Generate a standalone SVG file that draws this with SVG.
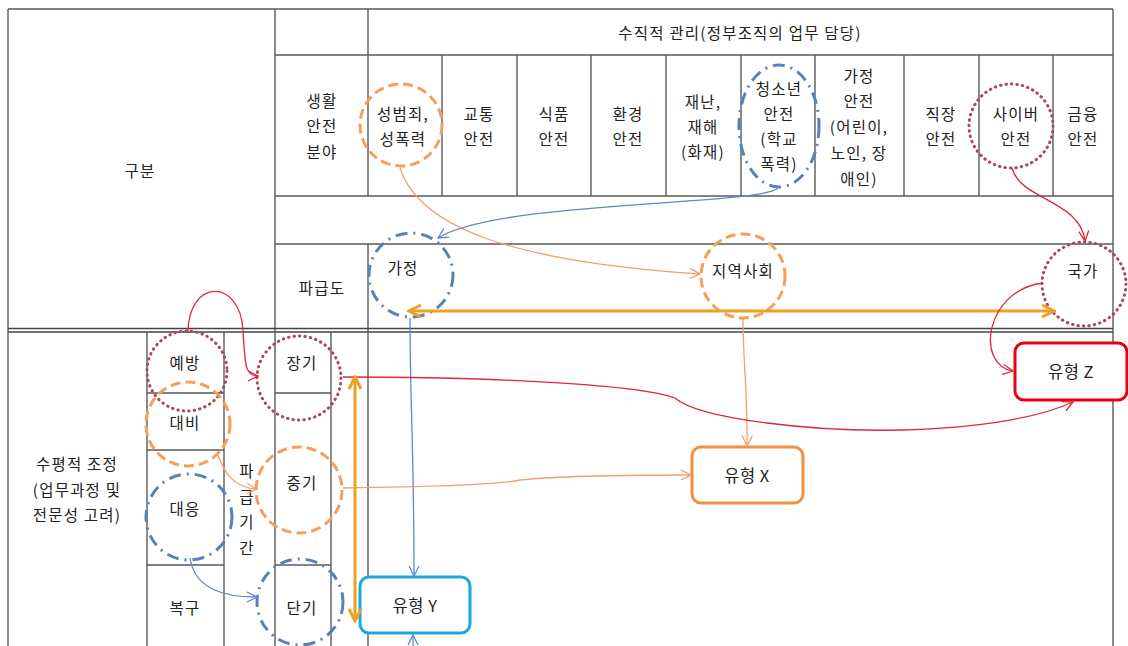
<svg xmlns="http://www.w3.org/2000/svg" width="1128" height="646" viewBox="0 0 1128 646">
<style>
text{font-family:"Noto Sans CJK KR","Noto Sans",sans-serif;font-size:15.5px;letter-spacing:1.2px;fill:#222;text-anchor:middle;dominant-baseline:central}
.t{stroke:#5a5a5a;stroke-width:1.4;fill:none}
.dbl{stroke:#444;stroke-width:1.6;fill:none}
.cOr{fill:none;stroke:#f4a05a;stroke-width:3;stroke-dasharray:10 5}
.cBl{fill:none;stroke:#5a80b8;stroke-width:3;stroke-dasharray:12 6 2 6}
.cMa{fill:none;stroke:#a8485a;stroke-width:3;stroke-dasharray:0.5 5;stroke-linecap:round}
.lOr{fill:none;stroke:#f2a070;stroke-width:1.3}
.lBl{fill:none;stroke:#6088c4;stroke-width:1.3}
.lRd{fill:none;stroke:#e0283c;stroke-width:1.3}
.thick{fill:none;stroke:#f0a020;stroke-width:3}
.box{fill:#fff;stroke-width:3}
.bx{font-size:16.5px;letter-spacing:0.5px}
</style>
<defs>
<marker id="aOr" markerUnits="userSpaceOnUse" markerWidth="12" markerHeight="12" refX="11" refY="6" orient="auto"><path d="M1,1 L11,6 L1,11" fill="none" stroke="#f2a070" stroke-width="1.3"/></marker>
<marker id="aBl" markerUnits="userSpaceOnUse" markerWidth="12" markerHeight="12" refX="11" refY="6" orient="auto"><path d="M1,1 L11,6 L1,11" fill="none" stroke="#6088c4" stroke-width="1.3"/></marker>
<marker id="aRd" markerUnits="userSpaceOnUse" markerWidth="12" markerHeight="12" refX="11" refY="6" orient="auto"><path d="M1,1 L11,6 L1,11" fill="none" stroke="#e0283c" stroke-width="1.3"/></marker>
<marker id="aTh" markerUnits="userSpaceOnUse" markerWidth="16" markerHeight="16" refX="14" refY="8" orient="auto-start-reverse"><path d="M2,2 L14,8 L2,14" fill="none" stroke="#f0a020" stroke-width="3"/></marker>
</defs>
<rect width="1128" height="646" fill="#fff"/>
<g id="table">
<path class="t" d="M8 9H1113M8 9V646M1113 9V646M275 9V646M368 9V196M368 244V646M275 55H1113M275 196H1113M275 244H1113"/>
<path class="t" d="M442 55V196M517 55V196M591 55V196M666 55V196M741 55V196M815 55V196M904 55V196M979 55V196M1053 55V196"/>
<path class="dbl" d="M8 328.5H1113M8 332H1113"/>
<path class="t" d="M147 332V646M224 332V646M331 332V646M147 393H224M275 393H331M147 450H224M147 565H224M275 565H331"/>
</g>
<g id="labels">
<text x="140" y="170">구분</text>
<text x="322" y="100">생활</text><text x="322" y="125">안전</text><text x="322" y="151">분야</text>
<text x="322" y="287">파급도</text>
<text x="740" y="32">수직적 관리(정부조직의 업무 담당)</text>
<text x="479" y="113">교통</text><text x="479" y="138">안전</text>
<text x="554" y="113">식품</text><text x="554" y="138">안전</text>
<text x="628" y="113">환경</text><text x="628" y="138">안전</text>
<text x="703" y="101">재난,</text><text x="703" y="126">재해</text><text x="703" y="151">(화재)</text>
<text x="859" y="75">가정</text><text x="859" y="100">안전</text><text x="859" y="126">(어린이,</text><text x="859" y="152">노인, 장</text><text x="859" y="178">애인)</text>
<text x="941" y="113">직장</text><text x="941" y="138">안전</text>
<text x="1083" y="113">금융</text><text x="1083" y="138">안전</text>
<text x="77" y="463">수평적 조정</text><text x="77" y="489">(업무과정 및</text><text x="77" y="514">전문성 고려)</text>
<text x="185" y="607">복구</text>
<text x="247" y="470">파</text><text x="247" y="496">급</text><text x="247" y="521">기</text><text x="247" y="547">간</text>
</g>
<g id="n-sexcrime"><circle class="cOr" cx="401" cy="125" r="41"/><text x="403" y="113">성범죄,</text><text x="403" y="138">성폭력</text></g>
<g id="n-youth"><ellipse class="cBl" cx="779" cy="126" rx="40" ry="61"/><text x="779" y="88">청소년</text><text x="779" y="113">안전</text><text x="779" y="138">(학교</text><text x="779" y="163">폭력)</text></g>
<g id="n-cyber"><circle class="cMa" cx="1011" cy="126" r="42"/><text x="1016" y="113">사이버</text><text x="1016" y="138">안전</text></g>
<g id="n-home"><circle class="cBl" cx="411" cy="275" r="42"/><text x="403" y="267">가정</text></g>
<g id="n-community"><circle class="cOr" cx="743" cy="276" r="42"/><text x="743" y="270">지역사회</text></g>
<g id="n-nation"><circle class="cMa" cx="1084" cy="284" r="42"/><text x="1083" y="270">국가</text></g>
<g id="n-prevent"><circle class="cMa" cx="187" cy="371" r="40"/><text x="185" y="362">예방</text></g>
<g id="n-prepare"><circle class="cOr" cx="188" cy="424" r="42"/><text x="185" y="422">대비</text></g>
<g id="n-respond"><circle class="cBl" cx="189" cy="517" r="43"/><text x="185" y="508">대응</text></g>
<g id="n-long"><circle class="cMa" cx="299" cy="378" r="42"/><text x="302" y="362">장기</text></g>
<g id="n-mid"><circle class="cOr" cx="299" cy="490" r="43"/><text x="302" y="482">중기</text></g>
<g id="n-short"><circle class="cBl" cx="300" cy="602" r="43"/><text x="302" y="607">단기</text></g>
<g id="n-typeX"><rect class="box" x="692" y="447" width="111" height="56" rx="9" stroke="#f39040"/><text class="bx" x="747" y="475">유형 X</text></g>
<g id="n-typeY"><rect class="box" x="360" y="577" width="110" height="56" rx="9" stroke="#1aa8e0"/><text class="bx" x="415" y="605">유형 Y</text></g>
<g id="n-typeZ"><rect class="box" x="1015" y="343" width="112" height="57" rx="9" stroke="#e60012"/><text class="bx" x="1071" y="371">유형 Z</text></g>
<g id="connectors">
<path class="lOr" d="M400 168C420 230 520 262 700 274" marker-end="url(#aOr)"/>
<path class="lBl" d="M778 188C760 206 500 200 438 238" marker-end="url(#aBl)"/>
<path class="lRd" d="M1012 168C1020 200 1080 200 1085 241" marker-end="url(#aRd)"/>
<path class="thick" d="M409 311H1054" marker-start="url(#aTh)" marker-end="url(#aTh)"/>
<path class="lBl" d="M410 318C410 400 414 450 414 576" marker-end="url(#aBl)"/>
<path class="lOr" d="M743 319C743 360 748 400 747 446" marker-end="url(#aOr)"/>
<path class="lRd" d="M1043 283C985 290 975 365 1013 371" marker-end="url(#aRd)"/>
<path class="lRd" d="M343 377C500 377 640 385 675 398C700 420 820 432 900 430C990 428 1045 415 1073 402" marker-end="url(#aRd)"/>
<path class="lOr" d="M343 488C420 487 500 485 520 480C560 476 620 475 691 475" marker-end="url(#aOr)"/>
<path class="thick" d="M355 377V621" marker-start="url(#aTh)" marker-end="url(#aTh)"/>
<path class="lRd" d="M188 333C188 278 240 278 243 330C245 365 245 376 258 376" marker-end="url(#aRd)"/>
<path class="lOr" d="M217 453C225 475 235 488 257 489" marker-end="url(#aOr)"/>
<path class="lBl" d="M190 558C195 590 225 597 257 597" marker-end="url(#aBl)"/>
<path class="lBl" d="M413 660V635" marker-end="url(#aBl)"/>
</g>
</svg>
